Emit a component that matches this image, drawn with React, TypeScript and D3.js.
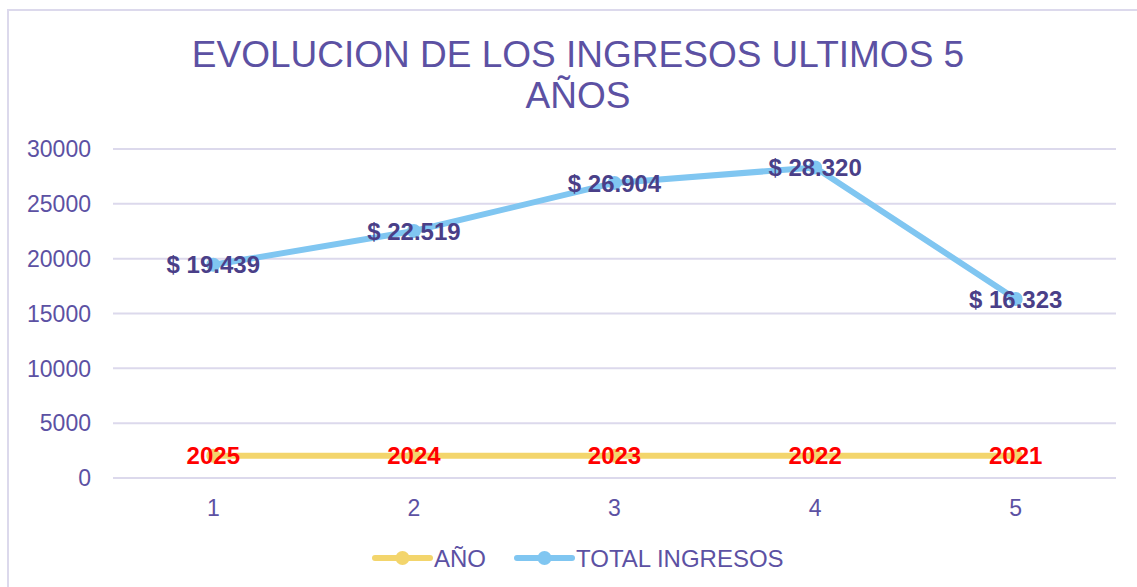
import { useRef, useEffect } from "react";
import * as d3 from "d3";

const categories = ["1", "2", "3", "4", "5"];
const anio = [2025, 2024, 2023, 2022, 2021];
const totalIngresos = [19439, 22519, 26904, 28320, 16323];
const yTicks = [0, 5000, 10000, 15000, 20000, 25000, 30000];
const titleLines = ["EVOLUCION DE LOS INGRESOS ULTIMOS 5", "AÑOS"];
const seriesNames = ["AÑO", "TOTAL INGRESOS"];

export default function App() {
  const ref = useRef<SVGSVGElement>(null);

  useEffect(() => {
    const width = 1137;
    const height = 587;
    const font = "'Liberation Sans', Arial, sans-serif";
    const axisColor = "#5c51a3";
    const gridColor = "#dcd9ec";
    const yellow = "#f3d56c";
    const blue = "#80c6f1";

    const svg = d3.select(ref.current);
    svg.selectAll("*").remove();

    // marco del grafico
    svg
      .append("rect")
      .attr("x", 8)
      .attr("y", 10)
      .attr("width", width + 20)
      .attr("height", height + 20)
      .attr("fill", "white")
      .attr("stroke", gridColor)
      .attr("stroke-width", 2);

    // titulo
    svg
      .append("g")
      .selectAll("text")
      .data(titleLines)
      .join("text")
      .attr("x", 578)
      .attr("y", (d, i) => 67 + i * 41)
      .attr("text-anchor", "middle")
      .attr("font-family", font)
      .attr("font-size", 37)
      .attr("fill", axisColor)
      .text((d) => d);

    const x = d3.scaleBand().domain(categories).range([113, 1116]);
    const y = d3.scaleLinear().domain([0, 30000]).range([478, 149]);
    const cx = (i: number) => (x(categories[i]) as number) + x.bandwidth() / 2;

    // grid
    svg
      .append("g")
      .selectAll("line")
      .data(yTicks)
      .join("line")
      .attr("x1", 113)
      .attr("x2", 1116)
      .attr("y1", (d) => y(d))
      .attr("y2", (d) => y(d))
      .attr("stroke", gridColor)
      .attr("stroke-width", 2);

    // eje y
    svg
      .append("g")
      .selectAll("text")
      .data(yTicks)
      .join("text")
      .attr("x", 91)
      .attr("y", (d) => y(d))
      .attr("dy", "0.36em")
      .attr("text-anchor", "end")
      .attr("font-family", font)
      .attr("font-size", 23)
      .attr("fill", axisColor)
      .text((d) => d);

    // eje x
    svg
      .append("g")
      .selectAll("text")
      .data(categories)
      .join("text")
      .attr("x", (d, i) => cx(i))
      .attr("y", 516)
      .attr("text-anchor", "middle")
      .attr("font-family", font)
      .attr("font-size", 23)
      .attr("fill", axisColor)
      .text((d) => d);

    const line = d3
      .line<number>()
      .x((d, i) => cx(i))
      .y((d) => y(d));

    const drawSeries = (vals: number[], color: string) => {
      svg
        .append("path")
        .datum(vals)
        .attr("d", line)
        .attr("fill", "none")
        .attr("stroke", color)
        .attr("stroke-width", 6)
        .attr("stroke-linejoin", "round")
        .attr("stroke-linecap", "round");
      svg
        .append("g")
        .selectAll("circle")
        .data(vals)
        .join("circle")
        .attr("cx", (d, i) => cx(i))
        .attr("cy", (d) => y(d))
        .attr("r", 7)
        .attr("fill", color);
    };

    drawSeries(anio, yellow);
    drawSeries(totalIngresos, blue);

    // etiquetas
    svg
      .append("g")
      .selectAll("text")
      .data(anio)
      .join("text")
      .attr("x", (d, i) => cx(i))
      .attr("y", (d) => y(d))
      .attr("dy", "0.36em")
      .attr("text-anchor", "middle")
      .attr("font-family", font)
      .attr("font-weight", "bold")
      .attr("font-size", 24)
      .attr("fill", "#ff0000")
      .text((d) => d);

    const fmt = d3.formatLocale({
      decimal: ",",
      thousands: ".",
      grouping: [3],
      currency: ["$ ", ""],
    }).format("$,.0f");

    svg
      .append("g")
      .selectAll("text")
      .data(totalIngresos)
      .join("text")
      .attr("x", (d, i) => cx(i))
      .attr("y", (d) => y(d))
      .attr("dy", "0.36em")
      .attr("text-anchor", "middle")
      .attr("font-family", font)
      .attr("font-weight", "bold")
      .attr("font-size", 24)
      .attr("fill", "#4a3f88")
      .text((d) => fmt(d));

    // leyenda
    const legendX = [375, 517];
    const colors = [yellow, blue];
    const leg = svg
      .append("g")
      .selectAll("g")
      .data(seriesNames)
      .join("g")
      .attr("transform", (d, i) => `translate(${legendX[i]},558)`);
    leg
      .append("line")
      .attr("x1", 0)
      .attr("x2", 55)
      .attr("stroke", (d, i) => colors[i])
      .attr("stroke-width", 6)
      .attr("stroke-linecap", "round");
    leg
      .append("circle")
      .attr("cx", 27.5)
      .attr("r", 7)
      .attr("fill", (d, i) => colors[i]);
    leg
      .append("text")
      .attr("x", 59)
      .attr("dy", "0.36em")
      .attr("font-family", font)
      .attr("font-size", 24)
      .attr("fill", axisColor)
      .text((d) => d);
  }, []);

  return (
    <svg
      ref={ref}
      width={1137}
      height={587}
      style={{ position: "absolute", left: 0, top: 0, display: "block" }}
    />
  );
}
